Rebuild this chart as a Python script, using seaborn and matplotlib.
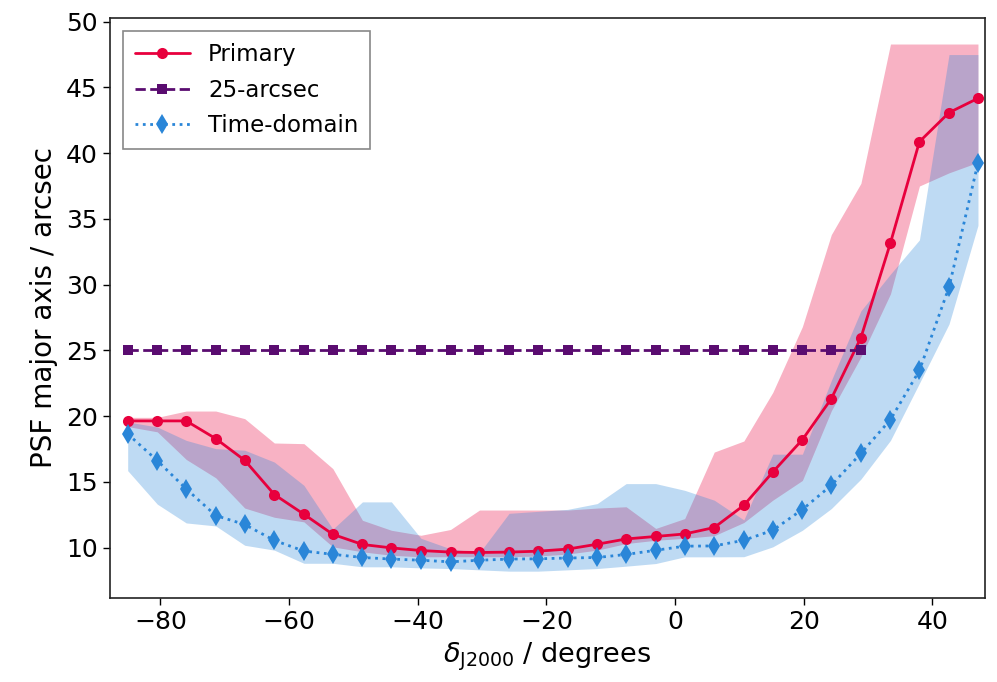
import matplotlib
matplotlib.use("Agg")
import matplotlib.pyplot as plt
import seaborn as sns
import pandas as pd

# Declination bin centres (degrees)
dec = [-85.1, -80.5, -76.0, -71.4, -66.9, -62.3, -57.7, -53.2, -48.6, -44.1,
       -39.5, -34.9, -30.4, -25.8, -21.3, -16.7, -12.1, -7.6, -3.0, 1.5,
       6.1, 10.7, 15.2, 19.8, 24.3, 28.9, 33.5, 38.0, 42.6, 47.1]

# Primary survey PSF major axis (arcsec) and its spread
primary = [19.63, 19.63, 19.63, 18.28, 16.63, 14.03, 12.53, 11.00, 10.23, 9.97,
           9.77, 9.65, 9.62, 9.65, 9.72, 9.88, 10.25, 10.65, 10.84, 11.03,
           11.52, 13.21, 15.74, 18.20, 21.32, 25.96, 33.18, 40.87, 43.08, 44.17]
primary_lo = [19.20, 18.80, 16.70, 15.30, 13.00, 12.30, 11.95, 10.05, 9.67, 9.41,
              9.29, 9.30, 9.30, 9.30, 9.35, 9.50, 9.80, 10.30, 10.55, 10.70,
              10.90, 11.90, 13.60, 15.10, 20.40, 24.50, 29.30, 37.50, 38.50, 39.30]
primary_hi = [19.90, 19.90, 20.38, 20.38, 19.80, 17.95, 17.90, 16.00, 12.07, 11.31,
              10.93, 11.37, 12.85, 12.85, 12.85, 12.85, 13.00, 13.10, 11.45, 12.20,
              17.26, 18.10, 21.80, 26.80, 33.80, 37.70, 48.30, 48.30, 48.30, 48.30]

# 25-arcsec survey (constant resolution, south of ~+30 deg)
dec_25 = [-85.1, -80.5, -76.0, -71.4, -66.9, -62.3, -57.7, -53.2, -48.6, -44.1,
          -39.5, -34.9, -30.4, -25.8, -21.3, -16.7, -12.1, -7.6, -3.0, 1.5,
          6.1, 10.7, 15.2, 19.8, 24.3, 28.9]
arcsec25 = [25.0, 25.0, 25.0, 25.0, 25.0, 25.0, 25.0, 25.0, 25.0, 25.0,
            25.0, 25.0, 25.0, 25.0, 25.0, 25.0, 25.0, 25.0, 25.0, 25.0,
            25.0, 25.0, 25.0, 25.0, 25.0, 25.0]

# Time-domain survey PSF major axis and its spread
timedomain = [18.64, 16.61, 14.46, 12.43, 11.75, 10.54, 9.73, 9.48, 9.24, 9.12,
              9.03, 8.91, 9.03, 9.12, 9.14, 9.20, 9.24, 9.47, 9.79, 10.10,
              10.12, 10.55, 11.31, 12.89, 14.73, 17.16, 19.73, 23.47, 29.80, 39.25]
td_lo = [15.85, 13.30, 11.87, 11.64, 10.17, 9.80, 8.80, 8.80, 8.53, 8.53,
         8.45, 8.40, 8.30, 8.20, 8.20, 8.30, 8.40, 8.58, 8.78, 9.29,
         9.29, 9.30, 10.05, 11.31, 12.96, 15.20, 18.15, 22.50, 27.00, 34.50]
td_hi = [19.55, 19.17, 18.15, 17.52, 17.40, 16.50, 14.73, 11.40, 13.47, 13.47,
         10.70, 9.90, 9.60, 12.60, 12.75, 12.90, 13.34, 14.86, 14.86, 14.35,
         13.60, 12.10, 17.10, 17.10, 22.70, 28.00, 30.80, 33.40, 47.50, 47.50]

RED = "#e8003d"
PURPLE = "#5a0c70"
BLUE = "#2a86d8"

sns.set_style("ticks")
plt.rcParams["font.family"] = ["DejaVu Sans"]
plt.rcParams["text.color"] = "black"
plt.rcParams["axes.labelcolor"] = "black"
plt.rcParams["xtick.color"] = "black"
plt.rcParams["ytick.color"] = "black"

fig = plt.figure(figsize=(9.97, 6.82), dpi=100)
ax = fig.add_axes([0.110, 0.123, 0.878, 0.851])

ax.fill_between(dec, primary_lo, primary_hi, color=RED, alpha=0.3, lw=0)
ax.fill_between(dec, td_lo, td_hi, color=BLUE, alpha=0.3, lw=0)

df_p = pd.DataFrame({"dec": dec, "psf": primary})
df_25 = pd.DataFrame({"dec": dec_25, "psf": arcsec25})
df_t = pd.DataFrame({"dec": dec, "psf": timedomain})

sns.lineplot(data=df_p, x="dec", y="psf", ax=ax, color=RED, lw=2,
             marker="o", markersize=8, markeredgewidth=0, label="Primary")
sns.lineplot(data=df_25, x="dec", y="psf", ax=ax, color=PURPLE, lw=2,
             linestyle="--", marker="s", markersize=7, markeredgewidth=0,
             label="25-arcsec")
sns.lineplot(data=df_t, x="dec", y="psf", ax=ax, color=BLUE, lw=2,
             linestyle=":", marker="d", markersize=10, markeredgewidth=0,
             label="Time-domain")

ax.set_xlim(-87.9, 48.2)
ax.set_ylim(6.15, 50.3)
ax.set_xticks([-80, -60, -40, -20, 0, 20, 40])
ax.set_yticks([10, 15, 20, 25, 30, 35, 40, 45, 50])
ax.tick_params(labelsize=18, length=5, width=1, color="black")
for s in ax.spines.values():
    s.set_color("#222222")
    s.set_linewidth(1.2)

ax.set_xlabel(r"$\delta_{\rm J2000}$ / degrees", fontsize=19.5, labelpad=5)
ax.set_ylabel("PSF major axis / arcsec", fontsize=20, labelpad=6)

leg = ax.legend(loc="upper left", fontsize=16.5, fancybox=False,
                edgecolor="#888888", framealpha=1, handlelength=2.4,
                borderpad=0.5, labelspacing=0.55, borderaxespad=0.6)
leg.get_frame().set_linewidth(1.2)
for t in leg.get_texts():
    t.set_color("black")

fig.savefig("out.png", dpi=100)
